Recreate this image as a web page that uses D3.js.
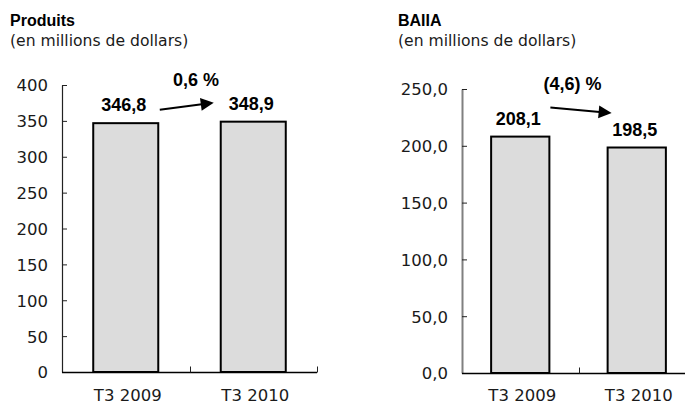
<!DOCTYPE html>
<html lang="fr">
<head>
<meta charset="utf-8">
<script src="https://cdn.jsdelivr.net/npm/d3@7"></script>
<style>
  html, body { margin: 0; padding: 0; background: #fff; }
  svg { display: block; }
</style>
</head>
<body>
<svg id="chart" width="685" height="406"></svg>
<script>
// Quarterly comparison: revenue (Produits) and EBITDA (BAIIA), in millions of dollars
const categories = ["T3 2009", "T3 2010"];
const produitsValues = [346.8, 348.9];
const baiiaValues = [208.1, 198.5];
const produitsTicks = [0, 50, 100, 150, 200, 250, 300, 350, 400];
const baiiaTicks = [0, 50, 100, 150, 200, 250];
const produitsChange = "0,6 %";
const baiiaChange = "(4,6) %";
const titles = ["Produits", "BAIIA"];
const subtitle = "(en millions de dollars)";

const fr = d3.formatLocale({ decimal: ",", thousands: " ", grouping: [3], currency: ["", " $"] });

const REG = "'DejaVu Sans', sans-serif";
const BOLD = "'Liberation Sans', Arial, sans-serif";

const panels = [
  {
    title: titles[0], values: produitsValues, ticks: produitsTicks, change: produitsChange,
    tickFmt: fr.format("d"),
    titleX: 10, xRange: [62, 317], yRange: [372, 85], pad: 0.49,
    axisColor: "#222", axisWidth: 1.2,
    changeDx: 6.5, labelGap: 12,
    arrow: { x0: 1.5, x1: -7, y0: -1.5, y1: -7 }
  },
  {
    title: titles[1], values: baiiaValues, ticks: baiiaTicks, change: baiiaChange,
    tickFmt: fr.format(".1f"),
    titleX: 398, xRange: [462, 695], yRange: [373, 89], pad: 0.5,
    axisColor: "#808080", axisWidth: 2,
    changeDx: -6, labelGap: 12,
    arrow: { x0: 1, x1: 4, y0: -17, y1: -22.5 }
  }
];

const svg = d3.select("#chart");
const valueFmt = fr.format(".1f");

panels.forEach(p => {
  const g = svg.append("g");

  // Titles
  g.append("text").attr("x", p.titleX).attr("y", 26)
    .attr("font-family", BOLD).attr("font-weight", "bold").attr("font-size", 16)
    .attr("fill", "#000").text(p.title);
  g.append("text").attr("x", p.titleX).attr("y", 46)
    .attr("font-family", REG).attr("font-size", 15.6)
    .attr("fill", "#1a1a1a").text(subtitle);

  const x = d3.scaleBand().domain(categories).range(p.xRange)
    .paddingInner(p.pad).paddingOuter(p.pad / 2);
  const y = d3.scaleLinear().domain([0, d3.max(p.ticks)]).range(p.yRange);

  // Bars
  g.selectAll("rect.bar").data(p.values).join("rect")
    .attr("class", "bar")
    .attr("x", (d, i) => x(categories[i]))
    .attr("width", x.bandwidth())
    .attr("y", d => y(d))
    .attr("height", d => y(0) - y(d))
    .attr("fill", "#dcdcdc")
    .attr("stroke", "#000")
    .attr("stroke-width", 2);

  // Y axis with inward ticks
  const yAxis = d3.axisLeft(y).tickValues(p.ticks).tickFormat(p.tickFmt)
    .tickSizeInner(-5).tickSizeOuter(0).tickPadding(14);
  const ya = g.append("g").attr("transform", `translate(${p.xRange[0]},0)`).call(yAxis);
  ya.select(".domain").attr("stroke", p.axisColor).attr("stroke-width", p.axisWidth);
  ya.selectAll(".tick line").attr("stroke", "#222").attr("stroke-width", 1);
  ya.selectAll(".tick text").attr("font-family", REG).attr("font-size", 16.5)
    .attr("fill", "#1a1a1a").attr("dy", "0.36em");

  // X axis: baseline with ticks at category boundaries
  const base = Math.round(y(0)) + 0.5;
  g.append("line").attr("x1", p.xRange[0]).attr("x2", p.xRange[1])
    .attr("y1", base).attr("y2", base).attr("stroke", "#000").attr("stroke-width", 1.5);
  const bounds = d3.range(1, categories.length + 1).map(i => p.xRange[0] + i * x.step());
  g.selectAll("line.xt").data(bounds).join("line").attr("class", "xt")
    .attr("x1", d => Math.round(d) + 0.5).attr("x2", d => Math.round(d) + 0.5)
    .attr("y1", base).attr("y2", base - 6)
    .attr("stroke", "#222").attr("stroke-width", 1);

  // Category labels
  g.selectAll("text.cat").data(categories).join("text").attr("class", "cat")
    .attr("x", d => x(d) + x.bandwidth() / 2 + 2)
    .attr("y", 401)
    .attr("text-anchor", "middle")
    .attr("font-family", REG).attr("font-size", 16.5).attr("fill", "#1a1a1a")
    .text(d => d);

  // Value labels
  const labelY = p.values.map(v => y(v) - p.labelGap);
  g.selectAll("text.val").data(p.values).join("text").attr("class", "val")
    .attr("x", (d, i) => x(categories[i]) + x.bandwidth() / 2 - 2)
    .attr("y", (d, i) => labelY[i])
    .attr("text-anchor", "middle")
    .attr("font-family", BOLD).attr("font-weight", "bold").attr("font-size", 18)
    .attr("fill", "#000")
    .text(d => valueFmt(d));

  // Change label between the bars
  const mid = p.xRange[0] + x.step();
  g.append("text").attr("x", mid + p.changeDx).attr("y", y(d3.max(p.ticks)) + 1)
    .attr("text-anchor", "middle")
    .attr("font-family", BOLD).attr("font-weight", "bold").attr("font-size", 18)
    .attr("fill", "#000").text(p.change);

  // Arrow from the first value to the second
  const ax0 = x(categories[0]) + x.bandwidth() + p.arrow.x0;
  const ax1 = x(categories[1]) + p.arrow.x1;
  const ay0 = labelY[0] + p.arrow.y0;
  const ay1 = labelY[1] + p.arrow.y1;
  const dx = ax1 - ax0, dy = ay1 - ay0, len = Math.hypot(dx, dy);
  const ux = dx / len, uy = dy / len;
  const headL = 13, headW = 6.5;
  const bx = ax1 - ux * headL, by = ay1 - uy * headL;
  g.append("line").attr("x1", ax0).attr("y1", ay0).attr("x2", bx + ux).attr("y2", by + uy)
    .attr("stroke", "#000").attr("stroke-width", 2);
  g.append("path")
    .attr("d", d3.line()([[ax1, ay1], [bx - uy * headW, by + ux * headW], [bx + uy * headW, by - ux * headW]]) + "Z")
    .attr("fill", "#000");
});
</script>
</body>
</html>
